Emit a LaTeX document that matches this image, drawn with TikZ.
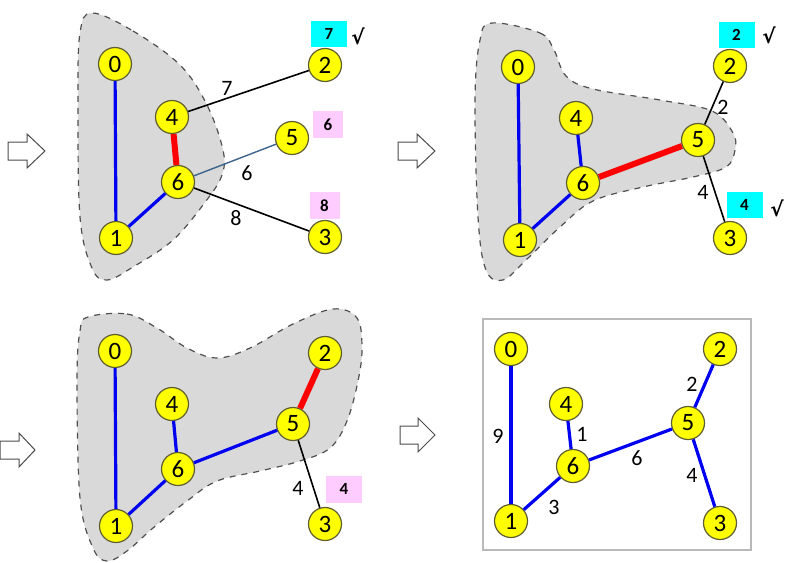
\documentclass[tikz,border=0pt]{standalone}
\usepackage{fontspec}
\setmainfont{Carlito}
\newfontfamily\symfont{DejaVu Sans}
\definecolor{nodeyel}{RGB}{255,255,0}
\definecolor{nodeedge}{RGB}{95,95,50}
\definecolor{blobfill}{RGB}{217,217,217}
\definecolor{blobline}{RGB}{80,80,80}
\definecolor{mstblue}{RGB}{0,0,240}
\definecolor{mstred}{RGB}{255,0,0}
\definecolor{candblue}{RGB}{60,100,140}
\definecolor{boxcyan}{RGB}{0,255,255}
\definecolor{boxpink}{RGB}{255,204,255}
\definecolor{framegray}{RGB}{185,185,185}
\begin{document}
\begin{tikzpicture}[x=0.5pt,y=-0.5pt,
  vtx/.style={circle,draw=nodeedge,line width=0.6pt,fill=nodeyel,minimum size=16.5pt,inner sep=0pt,font=\fontsize{12.5}{12.5}\selectfont},
  treeedge/.style={draw=mstblue,line width=1.6pt},
  newedge/.style={draw=mstred,line width=3pt},
  candedge/.style={draw=black,line width=0.8pt},
  cand2edge/.style={draw=candblue,line width=0.7pt},
  elabel/.style={inner sep=0pt,font=\fontsize{11}{11}\selectfont},
  cyanbox/.style={fill=boxcyan,minimum width=18pt,minimum height=13pt,inner sep=0pt,font=\bfseries\fontsize{8.5}{8.5}\selectfont},
  pinkbox/.style={fill=boxpink,minimum width=15pt,minimum height=13.5pt,inner sep=0pt,font=\bfseries\fontsize{8.5}{8.5}\selectfont},
  tick/.style={inner sep=0pt,font=\symfont\bfseries\fontsize{10}{10}\selectfont},
  blob/.style={fill=blobfill,draw=blobline,dashed,line width=0.6pt},
  bigarrow/.style={draw=black!70,fill=white,line width=0.5pt}]
\useasboundingbox (0,0) rectangle (786,562);

% ---------- arrows ----------
\draw[bigarrow] (8,142) -- (27,142) -- (27,134) -- (45,151) -- (27,168) -- (27,160) -- (8,160) -- cycle;
\draw[bigarrow] (398,142) -- (417,142) -- (417,134) -- (435,151) -- (417,168) -- (417,160) -- (398,160) -- cycle;
\draw[bigarrow] (0,441) -- (19,441) -- (19,433) -- (35,450) -- (19,467) -- (19,459) -- (0,459) -- cycle;
\draw[bigarrow] (400,426) -- (418,426) -- (418,418) -- (435,435) -- (418,452) -- (418,444) -- (400,444) -- cycle;

% ---------- blobs ----------
\path[blob] plot[smooth cycle,tension=0.6] coordinates {(92,13) (133,31) (180,65) (207,105) (223,150) (222,175) (206,201) (173,240) (133,267) (107,280) (92,268) (80,217) (78,100) (80,33)};
\path[blob] plot[smooth cycle,tension=0.6] coordinates {(492,23) (540,33) (554,50) (566,76) (593,89) (660,100) (712,111) (733,133) (735,150) (726,167) (693,177) (643,187) (593,201) (560,227) (526,260) (503,280) (486,270) (478,217) (475,100) (480,40)};
\path[blob] plot[smooth cycle,tension=0.6] coordinates {(88,317) (127,314) (157,328) (187,348) (217,358) (250,348) (293,324) (333,309) (357,318) (362,348) (358,381) (347,421) (330,448) (300,461) (260,471) (217,481) (187,501) (153,528) (127,551) (107,561) (93,548) (80,498) (77,381) (80,331)};

% ---------- final frame ----------
\draw[framegray,line width=0.6pt] (483,319) rectangle (751,550);

% ---------- panel 1 ----------
\node[vtx] (a0) at (115,64) {0};
\node[vtx] (a4) at (172,117) {4};
\node[vtx] (a6) at (178,182) {6};
\node[vtx] (a1) at (116,238) {1};
\node[vtx] (a2) at (325,65) {2};
\node[vtx] (a5) at (292,138) {5};
\node[vtx] (a3) at (325,237) {3};
\path[treeedge] (a0) -- (a1);
\path[treeedge] (a1) -- (a6);
\path[newedge] (a4) -- (a6);
\path[candedge] (a4) -- (a2);
\path[cand2edge] (a6) -- (a5);
\path[candedge] (a6) -- (a3);
\node[elabel] (la1) at (227,88) {7};
\node[elabel] (la2) at (247,173) {6};
\node[elabel] (la3) at (236,218) {8};
\node[cyanbox] (ba1) at (329,34) {7};
\node[tick] (ta1) at (358,36) {√};
\node[pinkbox] (ba2) at (328,124.5) {6};
\node[pinkbox] (ba3) at (324.5,205.5) {8};

% ---------- panel 2 ----------
\node[vtx] (b0) at (518,67) {0};
\node[vtx] (b4) at (576,118) {4};
\node[vtx] (b6) at (583,183) {6};
\node[vtx] (b1) at (520,240) {1};
\node[vtx] (b5) at (698,140) {5};
\node[vtx] (b2) at (730,66) {2};
\node[vtx] (b3) at (730,238) {3};
\path[treeedge] (b0) -- (b1);
\path[treeedge] (b1) -- (b6);
\path[treeedge] (b4) -- (b6);
\path[newedge] (b6) -- (b5);
\path[candedge] (b5) -- (b2);
\path[candedge] (b5) -- (b3);
\node[elabel] (lb1) at (723,107) {2};
\node[elabel] (lb2) at (703,192) {4};
\node[cyanbox] (bb1) at (736.5,34.5) {2};
\node[tick] (tb1) at (769,35) {√};
\node[cyanbox] (bb2) at (744.5,204.5) {4};
\node[tick] (tb2) at (777,208) {√};

% ---------- panel 3 ----------
\node[vtx] (c0) at (115,351) {0};
\node[vtx] (c4) at (172,404) {4};
\node[vtx] (c6) at (178,469) {6};
\node[vtx] (c1) at (116,526) {1};
\node[vtx] (c2) at (325,353) {2};
\node[vtx] (c5) at (293,424) {5};
\node[vtx] (c3) at (325,524) {3};
\path[treeedge] (c0) -- (c1);
\path[treeedge] (c1) -- (c6);
\path[treeedge] (c4) -- (c6);
\path[treeedge] (c6) -- (c5);
\path[newedge] (c5) -- (c2);
\path[candedge] (c5) -- (c3);
\node[elabel] (lc1) at (298,488) {4};
\node[pinkbox,minimum width=18pt] (bc1) at (344,489) {4};

% ---------- panel 4 ----------
\node[vtx] (d0) at (511,349) {0};
\node[vtx] (d4) at (566,404) {4};
\node[vtx] (d6) at (573,466) {6};
\node[vtx] (d1) at (511,521) {1};
\node[vtx] (d5) at (688,423) {5};
\node[vtx] (d2) at (720,349) {2};
\node[vtx] (d3) at (720,523) {3};
\path[treeedge] (d0) -- (d1);
\path[treeedge] (d1) -- (d6);
\path[treeedge] (d4) -- (d6);
\path[treeedge] (d6) -- (d5);
\path[treeedge] (d5) -- (d2);
\path[treeedge] (d5) -- (d3);
\node[elabel] (ld1) at (498,436) {9};
\node[elabel] (ld2) at (582,434) {1};
\node[elabel] (ld3) at (637,458) {6};
\node[elabel] (ld4) at (554,507) {3};
\node[elabel] (ld5) at (692,384) {2};
\node[elabel] (ld6) at (692,475) {4};
\end{tikzpicture}
\end{document}
